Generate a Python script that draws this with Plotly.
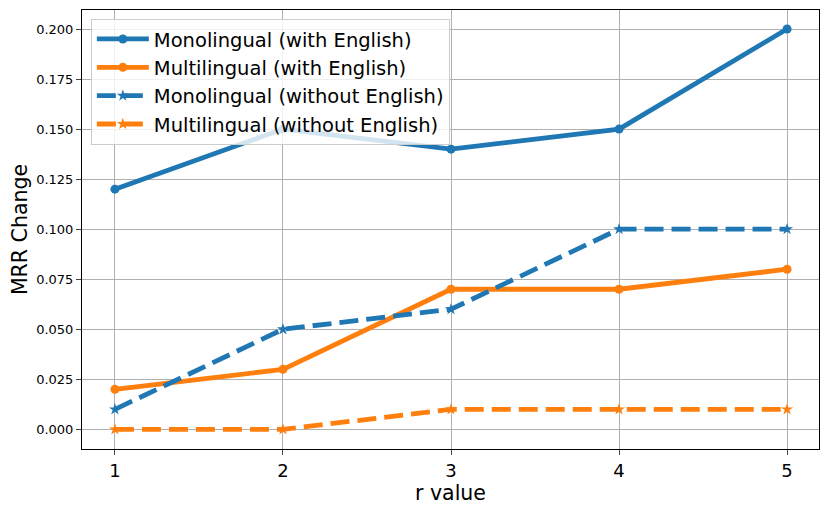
import plotly.graph_objects as go

r_values = [1, 2, 3, 4, 5]
mono_with = [0.12, 0.15, 0.14, 0.15, 0.20]
multi_with = [0.02, 0.03, 0.07, 0.07, 0.08]
mono_without = [0.01, 0.05, 0.06, 0.10, 0.10]
multi_without = [0.0, 0.0, 0.01, 0.01, 0.01]

blue = "#1f77b4"
orange = "#ff7f0e"

fig = go.Figure()
series = [
    ("Monolingual (with English)", mono_with, blue, "solid", "circle", 9),
    ("Multilingual (with English)", multi_with, orange, "solid", "circle", 9),
    ("Monolingual (without English)", mono_without, blue, "19px,8px", "star", 9),
    ("Multilingual (without English)", multi_without, orange, "19px,8px", "star", 9),
]
for name, vals, col, dash, sym, sz in series:
    fig.add_trace(go.Scatter(
        x=r_values, y=vals, name=name, mode="lines+markers",
        line=dict(color=col, width=4.8, dash=dash),
        marker=dict(symbol=sym, size=sz, color=col),
    ))

# page body has an 8px margin, so the margins are shifted to compensate
fig.update_layout(
    width=830, height=513,
    margin=dict(l=74, r=19, t=2, b=72),
    plot_bgcolor="white", paper_bgcolor="white",
    font=dict(family="DejaVu Sans", color="black"),
    legend=dict(
        x=0.012, y=0.98, xanchor="left", yanchor="top",
        bgcolor="rgba(255,255,255,0.8)", bordercolor="#cccccc", borderwidth=1,
        font=dict(size=19.5), tracegroupgap=0, itemwidth=52,
    ),
)
fig.update_xaxes(
    range=[0.804, 5.19], tickvals=r_values, ticktext=[str(v) for v in r_values],
    tickfont=dict(size=18), ticks="outside", ticklen=5, automargin=False,
    showgrid=True, gridcolor="#b0b0b0", gridwidth=1,
    showline=True, linecolor="black", mirror=True, zeroline=False,
    title=dict(text="r value", font=dict(size=20.5), standoff=6),
)
fig.update_yaxes(
    range=[-0.0098, 0.2095], tickvals=[0, 0.025, 0.05, 0.075, 0.1, 0.125, 0.15, 0.175, 0.2],
    tickformat=".3f", tickfont=dict(size=13), ticks="outside", ticklen=5, automargin=False,
    showgrid=True, gridcolor="#b0b0b0", gridwidth=1,
    showline=True, linecolor="black", mirror=True, zeroline=False,
    title=dict(text="MRR Change", font=dict(size=20.5), standoff=6),
)

fig.write_html("out.html")
